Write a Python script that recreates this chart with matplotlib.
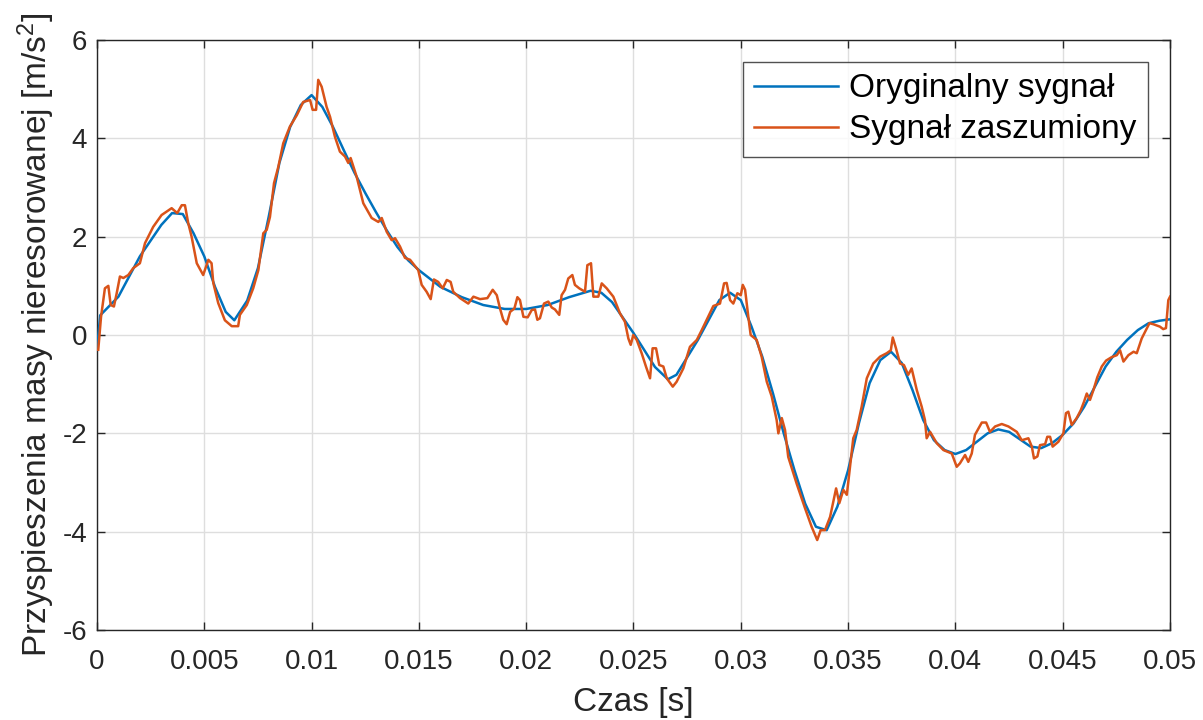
import numpy as np
import matplotlib
matplotlib.use("Agg")
import matplotlib.pyplot as plt

plt.rcParams['font.family'] = ['Liberation Sans', 'DejaVu Sans']
plt.rcParams['mathtext.default'] = 'regular'
plt.rcParams['axes.unicode_minus'] = False

# Original signal: time [ms], acceleration [m/s^2]
t_orig_ms = [0, 0.15, 1, 2, 3, 3.5, 4, 4.5, 5, 5.5, 6, 6.4, 7, 7.5, 8, 8.5, 9, 9.5,
             10, 10.5, 11, 11.5, 12, 12.5, 13, 13.5, 14, 14.5, 15, 16, 17, 18, 19, 20,
             21, 22, 23, 23.5, 24, 25, 26, 26.6, 27, 28, 29, 29.5, 30, 30.5, 31, 31.5,
             32, 32.5, 33, 33.5, 34, 34.5, 35, 35.5, 36, 36.5, 37, 37.5, 38, 38.5, 39,
             39.5, 40, 40.5, 41, 41.5, 42, 42.5, 43, 43.5, 44, 44.5, 45, 45.5, 46, 46.5,
             47, 47.5, 48, 48.5, 49, 49.5, 50]
a_orig = [-0.3, 0.4, 0.78, 1.6, 2.24, 2.48, 2.46, 2.07, 1.6, 0.98, 0.47, 0.3, 0.7, 1.36,
          2.4, 3.5, 4.23, 4.68, 4.88, 4.64, 4.23, 3.76, 3.3, 2.89, 2.5, 2.13, 1.79, 1.52,
          1.32, 0.98, 0.77, 0.61, 0.53, 0.53, 0.61, 0.77, 0.9, 0.86, 0.67, 0.04, -0.65,
          -0.9, -0.81, -0.1, 0.71, 0.86, 0.71, 0.17, -0.44, -1.19, -2.0, -2.75, -3.43,
          -3.9, -3.97, -3.49, -2.75, -1.8, -0.98, -0.51, -0.34, -0.57, -1.12, -1.73,
          -2.14, -2.34, -2.42, -2.34, -2.17, -2.0, -1.92, -1.97, -2.12, -2.27, -2.3,
          -2.2, -2.03, -1.8, -1.46, -1.05, -0.64, -0.34, -0.1, 0.1, 0.24, 0.29, 0.32]

# Noisy signal: time [ms], acceleration [m/s^2]
t_noisy_ms = [0.06, 0.19, 0.37, 0.53, 0.64, 0.79, 0.92, 1.07, 1.23, 1.46, 1.69, 2.0,
              2.24, 2.62, 3.01, 3.48, 3.74, 3.95, 4.10, 4.25, 4.41, 4.65, 4.95, 5.19,
              5.34, 5.42, 5.65, 5.96, 6.28, 6.58, 6.66, 6.98, 7.28, 7.52, 7.75, 7.91,
              8.06, 8.25, 8.45, 8.68, 8.99, 9.31, 9.61, 9.93, 10.05, 10.21, 10.31, 10.47,
              10.70, 10.86, 11.09, 11.32, 11.56, 11.71, 11.82, 12.10, 12.41, 12.80, 13.11,
              13.27, 13.50, 13.73, 13.89, 14.12, 14.35, 14.59, 14.97, 15.13, 15.36, 15.55,
              15.70, 15.90, 16.11, 16.30, 16.48, 16.60, 16.92, 17.30, 17.54, 17.85, 18.19,
              18.44, 18.63, 18.78, 18.93, 19.09, 19.25, 19.45, 19.59, 19.71, 19.87, 20.07,
              20.26, 20.41, 20.52, 20.64, 20.83, 21.03, 21.19, 21.34, 21.54, 21.65, 21.81,
              21.96, 22.15, 22.27, 22.47, 22.74, 22.85, 23.02, 23.13, 23.36, 23.52, 23.75,
              24.06, 24.37, 24.60, 24.76, 24.87, 24.99, 25.15, 25.38, 25.58, 25.77, 25.89,
              26.05, 26.20, 26.39, 26.55, 26.83, 27.01, 27.32, 27.63, 27.95, 28.18, 28.41,
              28.72, 29.03, 29.22, 29.34, 29.50, 29.65, 29.84, 30.00, 30.09, 30.20, 30.35,
              30.46, 30.74, 30.97, 31.21, 31.44, 31.67, 31.75, 31.91, 32.06, 32.21, 32.60,
              32.99, 33.30, 33.56, 33.72, 33.92, 34.16, 34.44, 34.59, 34.78, 34.94, 35.09,
              35.24, 35.40, 35.63, 35.87, 36.17, 36.49, 36.80, 36.99, 37.08, 37.23, 37.42,
              37.60, 37.80, 37.96, 38.20, 38.43, 38.58, 38.66, 38.82, 39.13, 39.44, 39.83,
              40.06, 40.21, 40.45, 40.60, 40.76, 40.91, 41.23, 41.43, 41.61, 41.85, 42.16,
              42.47, 42.86, 43.09, 43.40, 43.56, 43.66, 43.82, 43.94, 44.18, 44.28, 44.41,
              44.53, 44.80, 45.03, 45.15, 45.26, 45.42, 45.65, 45.84, 45.99, 46.12, 46.27,
              46.43, 46.61, 46.82, 47.02, 47.28, 47.52, 47.67, 47.83, 48.06, 48.30, 48.45,
              48.68, 48.84, 49.04, 49.22, 49.53, 49.68, 49.81, 49.92, 50.0]
a_noisy = [-0.3, 0.37, 0.95, 1.0, 0.61, 0.58, 0.85, 1.19, 1.16, 1.22, 1.36, 1.46,
           1.87, 2.2, 2.44, 2.58, 2.48, 2.64, 2.64, 2.28, 2.0, 1.46, 1.22, 1.53,
           1.46, 1.06, 0.65, 0.3, 0.18, 0.18, 0.41, 0.61, 0.95, 1.32, 2.07, 2.14,
           2.4, 3.09, 3.42, 3.9, 4.24, 4.47, 4.74, 4.78, 4.58, 4.58, 5.19, 5.05,
           4.64, 4.44, 4.03, 3.73, 3.63, 3.5, 3.6, 3.22, 2.68, 2.38, 2.3,
           2.38, 2.1, 1.93, 1.97, 1.8, 1.57, 1.53, 1.32, 1.02, 0.88, 0.73,
           1.13, 1.08, 0.95, 1.12, 1.08, 0.88, 0.75, 0.64, 0.78, 0.73, 0.75,
           0.92, 0.81, 0.54, 0.31, 0.22, 0.47, 0.54, 0.77, 0.71, 0.37, 0.36,
           0.51, 0.52, 0.31, 0.34, 0.64, 0.68, 0.56, 0.52, 0.41, 0.81, 0.92,
           1.15, 1.22, 1.02, 0.95, 0.88, 1.42, 1.46, 0.78, 0.78, 1.05, 0.95,
           0.78, 0.44, 0.27, -0.07, -0.2, 0.0, -0.1, -0.37, -0.64, -0.88, -0.27,
           -0.27, -0.61, -0.64, -0.88, -1.05, -0.95, -0.68, -0.24, -0.1, 0.1, 0.31,
           0.59, 0.64, 1.05, 1.06, 0.71, 0.64, 0.85, 0.81, 1.02, 0.92, 0.37,
           0.0, -0.1, -0.44, -0.95, -1.25, -1.73, -2.0, -1.69, -1.93, -2.48, -3.02,
           -3.52, -3.9, -4.17, -3.97, -3.97, -3.7, -3.12, -3.42, -3.15, -3.25, -2.68,
           -2.1, -1.93, -1.46, -0.88, -0.58, -0.44, -0.37, -0.31, -0.05, -0.27, -0.58,
           -0.61, -0.81, -0.68, -1.12, -1.46, -1.73, -2.1, -1.97, -2.2, -2.34, -2.41,
           -2.68, -2.61, -2.44, -2.58, -2.41, -2.03, -1.78, -1.78, -1.97, -1.86, -1.81,
           -1.86, -1.97, -2.14, -2.1, -2.27, -2.51, -2.47, -2.24, -2.22, -2.07, -2.07,
           -2.27, -2.17, -2.0, -1.59, -1.56, -1.83, -1.69, -1.53, -1.36, -1.19, -1.32,
           -1.12, -0.86, -0.64, -0.52, -0.45, -0.41, -0.31, -0.54, -0.41, -0.34, -0.37,
           -0.07, 0.07, 0.24, 0.22, 0.17, 0.12, 0.14, 0.71, 0.78]

x_ticks = [0, 0.005, 0.01, 0.015, 0.02, 0.025, 0.03, 0.035, 0.04, 0.045, 0.05]
x_tick_labels = ['0', '0.005', '0.01', '0.015', '0.02', '0.025', '0.03', '0.035',
                 '0.04', '0.045', '0.05']
y_ticks = [-6, -4, -2, 0, 2, 4, 6]

t_orig = np.array(t_orig_ms) / 1000
t_noisy = np.array(t_noisy_ms) / 1000

fig = plt.figure(figsize=(12.03, 7.2), dpi=100)
ax = fig.add_axes([0.0806, 0.125, 0.892, 0.8194])

ax.plot(t_orig, a_orig, color='#0072BD', lw=1.8, label='Oryginalny sygnał', zorder=3)
ax.plot(t_noisy, a_noisy, color='#D95319', lw=1.8, label='Sygnał zaszumiony', zorder=4)

ax.set_xlim(0, 0.05)
ax.set_ylim(-6, 6)
ax.set_xticks(x_ticks)
ax.set_xticklabels(x_tick_labels)
ax.set_yticks(y_ticks)
ax.grid(True, color='#dedede', lw=1)
ax.set_axisbelow(True)
ax.tick_params(direction='in', top=True, right=True, length=6, width=1,
               labelsize=20, colors='#262626')
ax.tick_params(axis='x', pad=14)
ax.tick_params(axis='y', pad=7)
for s in ax.spines.values():
    s.set_color('#262626')
    s.set_linewidth(1)

ax.set_xlabel('Czas [s]', fontsize=24, color='#262626', labelpad=8)
ax.set_ylabel('Przyspieszenia masy nieresorowanej [m/s$^2$]', fontsize=24,
              color='#262626', labelpad=4)

leg = ax.legend(loc='upper right', fontsize=24, frameon=True, fancybox=False,
                edgecolor='#262626', handlelength=2.5, borderaxespad=0.65,
                handletextpad=0.35, borderpad=0.35, labelspacing=0.3)
leg.get_frame().set_linewidth(1)

fig.savefig('out.png', dpi=100)
